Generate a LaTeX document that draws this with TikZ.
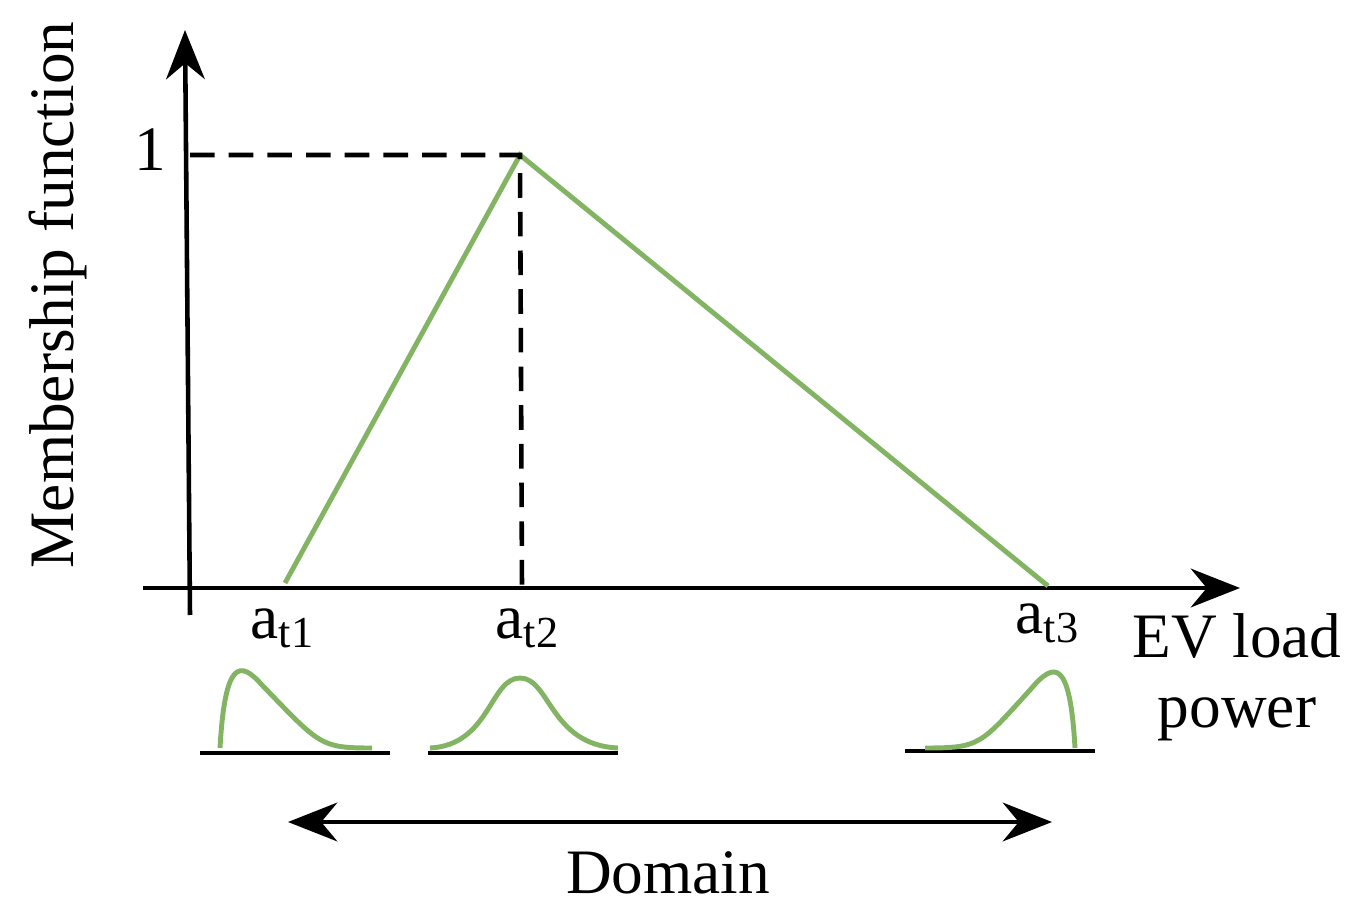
\documentclass[tikz,border=0pt]{standalone}
\usepackage{fontspec}
\setmainfont{Liberation Serif}
\usetikzlibrary{arrows.meta}
\definecolor{mfgreen}{RGB}{130,180,100}
\begin{document}
\begin{tikzpicture}[x=0.01cm,y=-0.01cm,
  ax/.style={line width=1.3pt,-{Stealth[length=14pt,width=11pt]}},
  mf/.style={mfgreen,line width=1.4pt},
  lbl/.style={font=\fontsize{18}{20}\selectfont}]
\useasboundingbox (0,0) rectangle (1361,922);

\coordinate (o) at (190,588);
\coordinate (ytop) at (185,30);
\coordinate (yb) at (190,615);
\coordinate (xl) at (143,588);
\coordinate (xr) at (1240,588);
\coordinate (p1) at (285,583);
\coordinate (p2) at (520,155);
\coordinate (p3) at (1048,586);
\coordinate (one) at (190,155);
\coordinate (foot) at (522,588);

\draw[ax] (yb) -- (ytop);
\draw[ax] (xl) -- (xr);

\draw[mf] (p1) -- (p2) -- (p3);
\draw[line width=1.3pt,dash pattern=on 7pt off 4pt] (one) -- (p2) -- (foot);

\node[lbl] (l1) at (150,150) {1};
\node[lbl] (a1) at (283,628) {a\textsubscript{t1}};
\node[lbl] (a2) at (528,628) {a\textsubscript{t2}};
\node[lbl] (a3) at (1048,623) {a\textsubscript{t3}};
\node[lbl,align=center] (xlab) at (1237,677) {EV load\\power};
\node[lbl,rotate=90] (ylab) at (58,295) {Membership function};

% small distributions
\draw[line width=1.3pt] (200,753) -- (390,753);
\draw[line width=1.3pt] (428,753) -- (618,753);
\draw[line width=1.3pt] (905,751) -- (1095,751);
\draw[mf] (220,748) .. controls (225,660) and (240,660) .. (262,685)
  .. controls (320,745) and (320,748) .. (372,748);
\draw[mf] (430,748) .. controls (490,745) and (490,678) .. (520,678)
  .. controls (550,678) and (550,745) .. (618,748);
\draw[mf] (925,748) .. controls (980,748) and (980,745) .. (1030,690)
  .. controls (1055,660) and (1070,660) .. (1075,748);

\coordinate (dl) at (288,822);
\coordinate (dr) at (1052,822);
\draw[line width=1.3pt,{Stealth[length=14pt,width=11pt]}-{Stealth[length=14pt,width=11pt]}] (dl) -- (dr);
\node[lbl] (dom) at (668,873) {Domain};
\end{tikzpicture}
\end{document}
